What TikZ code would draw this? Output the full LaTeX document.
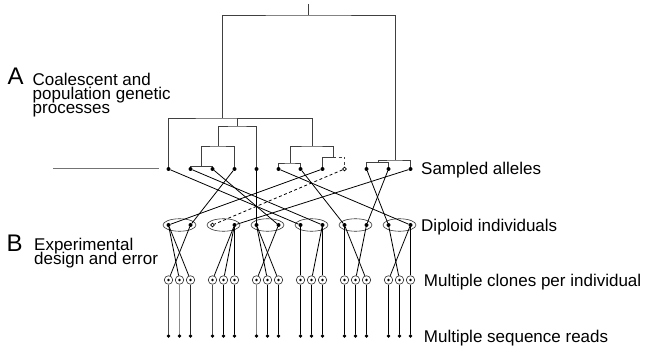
\documentclass[tikz,border=0pt]{standalone}
\usepackage{fontspec}
\setmainfont{Liberation Sans}
\usetikzlibrary{shapes.geometric}
\newcommand{\stacklines}[1]{\lineskiplimit=-100pt\relax\vtop{#1}}
\begin{document}
\begin{tikzpicture}[x=1pt,y=-1pt,
  tree/.style={draw=black!75, line width=0.8pt},
  link/.style={draw=black, line width=0.8pt},
  dot/.style={circle, fill=black, inner sep=0pt, minimum size=4pt},
  odot/.style={circle, draw=black, fill=white, line width=0.6pt, inner sep=0pt, minimum size=3.8pt},
  rdot/.style={circle, fill=black, inner sep=0pt, minimum size=3.6pt},
  clone/.style={circle, draw=black!85, line width=0.6pt, inner sep=0pt, minimum size=8.5pt,
    path picture={\fill[black] (path picture bounding box.center) circle (1.4pt);}},
  indiv/.style={ellipse, draw=black!80, line width=0.6pt, inner sep=0pt, minimum width=33pt, minimum height=12.5pt},
  lab/.style={inner sep=0pt, anchor=base west, font=\fontsize{17}{13.8}\selectfont},
  big/.style={inner sep=0pt, anchor=base west, font=\fontsize{24}{24}\selectfont}]
\useasboundingbox (0,0) rectangle (646,350);

% ---------- labels ----------
\node[big] (A) at (7.5,85) {A};
\node[lab] (Atext) at (32.5,86) {\stacklines{\hbox{Coalescent and}\hbox{population genetic}\hbox{processes}}};
\node[big] (B) at (6.5,251.5) {B};
\node[lab] (Btext) at (34,251) {\stacklines{\hbox{Experimental}\hbox{design and error}}};
\node[lab] (L1) at (421,175) {Sampled alleles};
\node[lab] (L2) at (421,231.5) {Diploid individuals};
\node[lab] (L3) at (423.7,286.5) {Multiple clones per individual};
\node[lab] (L4) at (423.7,342) {Multiple sequence reads};

% ---------- individuals (ellipses) ----------
\foreach \k in {0,...,5} {
  \node[indiv] (e\k) at ({179.5+44*\k},225) {};
}

% ---------- sampled alleles ----------
\foreach \i in {0,...,7,9,10,11} {
  \node[dot] (a\i) at ({168.5+22*\i},169) {};
}
\node[odot] (a8) at (344.5,169) {};

% ---------- diploid alleles ----------
\foreach \i in {0,1,3,4,5,6,7,8,9,10,11} {
  \node[dot] (d\i) at ({168.5+22*\i},225) {};
}
\node[odot] (d2) at (212.5,225) {};

% ---------- clones and reads ----------
\foreach \k in {0,...,5} {
  \foreach \j in {0,1,2} {
    \node[clone] (c\k\j) at ({168.5+44*\k+11*\j},280) {};
    \node[rdot] (rd\k\j) at ({168.5+44*\k+11*\j},336) {};
  }
}

% ---------- genealogy ----------
\coordinate (rt) at (308,4);
\coordinate (r) at (308,15);
\coordinate (nL) at (222,118);
\coordinate (nR) at (395,160);
\coordinate (n2) at (237,126);
\coordinate (n3) at (218,146);
\coordinate (n4) at (201.5,166.5);
\coordinate (n5) at (312,146);
\coordinate (n6) at (290.5,163);
\coordinate (n7) at (333,157);
\coordinate (n8) at (378,162.5);
\coordinate (thk) at (276,118.4);
\coordinate (g1) at (53,168.5);
\coordinate (g2) at (159,168.5);

\draw[tree] (rt) -- (r);
\draw[tree] (nL) |- (r) -| (nR);
\draw[tree] (a0) |- (nL) -| (n5);
\draw[tree] (n2) -- (n2 |- nL);
\draw[tree, line width=1.7pt] (n2 |- thk) -- (thk);
\draw[tree] (n3) |- (n2) -| (a4);
\draw[tree] (n4) |- (n3) -| (a3);
\draw[tree] (a1) |- (n4) -| (a2);
\draw[tree] (n6) |- (n5) -| (n7);
\draw[tree] (a5) |- (n6) -| (a6);
\draw[tree] (a7) |- (n7);
\draw[tree, dash pattern=on 3pt off 2.5pt] (n7) -| (a8);
\draw[tree] (n8) |- (nR) -| (a11);
\draw[tree] (a9) |- (n8) -| (a10);
\draw[draw=black!55, line width=0.8pt] (g1) -- (g2);

% ---------- alleles -> individuals ----------
\foreach \s/\t in {0/6,1/7,2/5,3/1,4/4,5/11,6/8,7/0,9/10,10/9,11/3} {
  \draw[link] (a\s) -- (d\t);
}
\draw[link, dash pattern=on 3pt off 2.5pt] (a8) -- (d2);

% ---------- individuals -> clones ----------
\foreach \s/\t in {0/01,0/02,1/00,3/10,3/11,3/12,4/21,4/22,5/20,6/30,7/31,7/32,8/40,8/42,9/41,10/51,11/50,11/52} {
  \draw[link] (d\s) -- (c\t);
}

% ---------- clones -> reads ----------
\foreach \t/\col in {00/black!70,01/black!45,02/black!85,10/black!70,11/black,12/black,20/black!50,21/black,22/black,30/black,31/black,32/black,40/black,41/black,42/black,50/black,51/black,52/black} {
  \draw[link, draw=\col] (c\t) -- (rd\t);
}
\end{tikzpicture}
\end{document}
